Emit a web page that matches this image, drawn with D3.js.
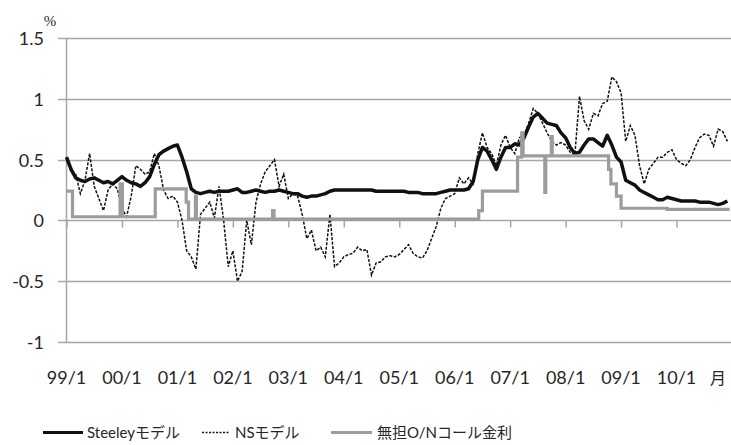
<!DOCTYPE html>
<html>
<head>
<meta charset="utf-8">
<script src="https://cdn.jsdelivr.net/npm/d3@7"></script>
<style>
body { margin: 0; background: #fff; }
svg { display: block; }
text { font-family: Lato, "Noto Sans CJK JP", sans-serif; fill: #262626; }
</style>
</head>
<body>
<div id="area"></div>
<script>
// monthly values from 99/1 (index 0) to 10/12 (index 143)
var steeley = [
  0.52,0.42,0.35,0.33,0.32,0.34,0.35,0.33,0.31,0.32,0.30,0.33,
  0.36,0.33,0.31,0.30,0.28,0.31,0.36,0.46,0.54,0.57,0.59,0.61,
  0.62,0.52,0.40,0.26,0.23,0.22,0.23,0.24,0.23,0.24,0.24,0.24,
  0.25,0.26,0.23,0.23,0.24,0.25,0.24,0.23,0.24,0.24,0.25,0.24,
  0.23,0.22,0.22,0.20,0.19,0.20,0.20,0.21,0.22,0.24,0.25,0.25,
  0.25,0.25,0.25,0.25,0.25,0.25,0.25,0.24,0.24,0.24,0.24,0.24,
  0.24,0.24,0.23,0.23,0.23,0.22,0.22,0.22,0.22,0.23,0.24,0.25,
  0.25,0.25,0.25,0.26,0.32,0.50,0.60,0.57,0.50,0.42,0.52,0.60,
  0.60,0.63,0.62,0.68,0.77,0.85,0.88,0.84,0.80,0.79,0.78,0.72,
  0.68,0.60,0.55,0.56,0.62,0.67,0.67,0.64,0.61,0.70,0.62,0.52,
  0.48,0.33,0.31,0.29,0.25,0.23,0.21,0.19,0.17,0.17,0.19,0.18,
  0.17,0.16,0.16,0.16,0.16,0.15,0.15,0.15,0.14,0.13,0.14,0.16
];
var ns = [
  0.50,0.40,0.38,0.22,0.33,0.55,0.28,0.18,0.08,0.25,0.30,0.26,
  0.10,0.03,0.20,0.45,0.42,0.38,0.40,0.55,0.45,0.25,0.18,0.20,
  0.15,0.00,-0.25,-0.30,-0.40,0.05,0.10,0.15,0.02,0.28,0.00,-0.38,
  -0.25,-0.50,-0.42,0.00,-0.20,0.15,0.30,0.40,0.45,0.50,0.28,0.38,
  0.18,0.22,0.20,0.05,-0.15,-0.08,-0.25,-0.22,-0.30,0.05,-0.38,-0.35,
  -0.30,-0.28,-0.27,-0.22,-0.25,-0.24,-0.45,-0.35,-0.34,-0.30,-0.29,-0.30,
  -0.28,-0.24,-0.20,-0.27,-0.30,-0.31,-0.25,-0.15,-0.05,0.10,0.18,0.20,
  0.22,0.35,0.30,0.35,0.30,0.55,0.72,0.60,0.55,0.45,0.62,0.70,
  0.60,0.55,0.68,0.70,0.80,0.92,0.88,0.80,0.72,0.65,0.62,0.64,
  0.62,0.56,0.54,1.02,0.82,0.75,0.88,0.86,0.96,0.98,1.18,1.14,
  1.05,0.65,0.78,0.70,0.45,0.30,0.42,0.47,0.52,0.52,0.56,0.58,
  0.50,0.47,0.45,0.50,0.60,0.68,0.71,0.70,0.61,0.75,0.73,0.65
];
// call rate: change points (month index, value), drawn as steps
var callMonths = [0, 1.3, 11.6, 12.1, 19.2, 25.9, 26.4, 27.9, 28.1, 44.6, 44.9, 89.2, 90.0,
                  97.6, 98.5, 98.8, 103.5, 103.7, 104.9, 105.1, 117.3, 117.8, 119.0, 120.0, 130, 143.5];
var callValues = [0.24, 0.03, 0.30, 0.03, 0.26, 0.15, 0.01, 0.20, 0.01, 0.08, 0.01, 0.08, 0.24,
                  0.52, 0.72, 0.53, 0.23, 0.53, 0.69, 0.53, 0.42, 0.30, 0.20, 0.10, 0.09, 0.09];

var yTicks = [-1, -0.5, 0, 0.5, 1, 1.5];
var xTickLabels = ["99/1","00/1","01/1","02/1","03/1","04/1","05/1","06/1","07/1","08/1","09/1","10/1"];
var seriesNames = ["Steeleyモデル", "NSモデル", "無担O/Nコール金利"];

var width = 731, height = 445;
var svg = d3.select('#area').append('svg')
    .attr('width', width)
    .attr('height', height);

var x = d3.scaleLinear().domain([0, 144]).range([66.5, 732]);
var y = d3.scaleLinear().domain([-1, 1.5]).range([342, 38]);

var gridColor = '#a6a6a6';

// horizontal gridlines
svg.append('g').selectAll('line')
  .data(yTicks)
  .enter().append('line')
    .attr('x1', 58).attr('x2', width)
    .attr('y1', function(d) { return Math.round(y(d)) + 0.5; })
    .attr('y2', function(d) { return Math.round(y(d)) + 0.5; })
    .attr('stroke', gridColor)
    .attr('stroke-width', 1.5);

// y axis line
svg.append('line')
  .attr('x1', 66.5).attr('x2', 66.5)
  .attr('y1', y(1.5)).attr('y2', y(-1))
  .attr('stroke', gridColor)
  .attr('stroke-width', 1.5);

// y labels
var yAxis = d3.axisLeft(y).tickValues(yTicks).tickSize(0).tickPadding(0)
  .tickFormat(function(d) { return d; });
svg.append('g')
  .attr('transform', 'translate(44,0)')
  .call(yAxis)
  .call(function(g) { g.select('.domain').remove(); })
  .selectAll('text')
    .style('font-family', 'Lato, sans-serif')
    .style('font-size', '18px')
    .attr('fill', '#262626')
    .attr('dy', '0.36em');

// x ticks on zero line
var tickMonths = xTickLabels.map(function(d, i) { return i * 12; });
var xAxis = d3.axisBottom(x).tickValues(tickMonths).tickSize(7).tickFormat('');
svg.append('g')
  .attr('transform', 'translate(0,' + (Math.round(y(0)) + 0.5) + ')')
  .call(xAxis)
  .call(function(g) {
    g.select('.domain').remove();
    g.selectAll('line').attr('stroke', gridColor).attr('stroke-width', 1.5);
  });

// x labels at bottom
svg.append('g').selectAll('text')
  .data(xTickLabels)
  .enter().append('text')
    .attr('x', function(d, i) { return x(i * 12); })
    .attr('y', 384)
    .attr('text-anchor', 'middle')
    .style('font-size', '18px')
    .text(function(d) { return d; });

svg.append('text')
  .attr('x', 718).attr('y', 384)
  .attr('text-anchor', 'middle')
  .style('font-size', '16px')
  .text('月');

svg.append('text')
  .attr('x', 50).attr('y', 26)
  .attr('text-anchor', 'middle')
  .style('font-family', '"Liberation Serif", serif')
  .style('font-size', '15px')
  .text('%');

// series
var line = d3.line()
  .x(function(d, i) { return x(i); })
  .y(function(d) { return y(d); });

svg.append('path')
  .datum(steeley)
  .attr('d', line)
  .attr('fill', 'none')
  .attr('stroke', '#111')
  .attr('stroke-width', 3.5)
  .attr('stroke-linejoin', 'round');

svg.append('path')
  .datum(ns)
  .attr('d', line)
  .attr('fill', 'none')
  .attr('stroke', '#111')
  .attr('stroke-width', 1.5)
  .attr('stroke-dasharray', '3,1.5');

var stepLine = d3.line()
  .curve(d3.curveStepAfter)
  .x(function(d) { return x(d[0]); })
  .y(function(d) { return y(d[1]); });

svg.append('path')
  .datum(callMonths.map(function(m, i) { return [m, callValues[i]]; }))
  .attr('d', stepLine)
  .attr('fill', 'none')
  .attr('stroke', '#9c9c9c')
  .attr('stroke-width', 3.2);

// legend
var legendItems = [
  {name: seriesNames[0], x1: 43, x2: 83, tx: 87, color: '#111', w: 3, dash: null},
  {name: seriesNames[1], x1: 202, x2: 230, tx: 235, color: '#111', w: 1.3, dash: '2,1.5'},
  {name: seriesNames[2], x1: 331, x2: 372, tx: 377, color: '#9c9c9c', w: 3, dash: null}
];
var legend = svg.selectAll('.legend')
  .data(legendItems)
  .enter().append('g')
  .attr('class', 'legend');

legend.append('line')
  .attr('x1', function(d) { return d.x1; })
  .attr('x2', function(d) { return d.x2; })
  .attr('y1', 432.5).attr('y2', 432.5)
  .attr('stroke', function(d) { return d.color; })
  .attr('stroke-width', function(d) { return d.w; })
  .attr('stroke-dasharray', function(d) { return d.dash; });

legend.append('text')
  .attr('x', function(d) { return d.tx; })
  .attr('y', 438)
  .style('font-size', '15px')
  .text(function(d) { return d.name; });
</script>
</body>
</html>
